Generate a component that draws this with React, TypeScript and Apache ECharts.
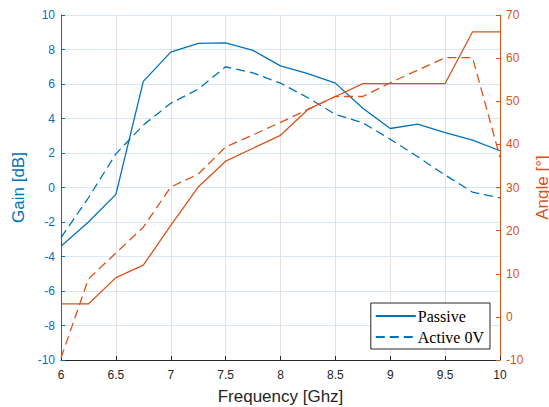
import React, { useEffect, useRef } from "react";
import * as echarts from "echarts";

const freq = [6, 6.25, 6.5, 6.75, 7, 7.25, 7.5, 7.75, 8, 8.25, 8.5, 8.75, 9, 9.25, 9.5, 9.75, 10];
const gainPassive = [-3.4, -2.0, -0.4, 6.15, 7.85, 8.35, 8.38, 7.95, 7.05, 6.6, 6.05, 4.6, 3.42, 3.68, 3.18, 2.75, 2.13];
const gainActive = [-2.9, -0.6, 1.95, 3.62, 4.88, 5.7, 7.0, 6.64, 6.05, 5.2, 4.24, 3.75, 2.8, 1.78, 0.72, -0.27, -0.6];
const anglePassive = [3, 3, 9.1, 12, 21.2, 30.1, 36.1, 39.1, 42.1, 48.1, 51.1, 54.1, 54.1, 54.1, 54.1, 66.1, 66.1];
const angleActive = [-9.5, 8.8, 14.8, 20.8, 30.1, 33.1, 39.4, 42.2, 45.1, 48.1, 51.1, 51.1, 54.3, 57.2, 60.1, 60.1, 37.0];

const BLUE = "#0072BD";
const ORANGE = "#D95319";
const DARK = "#262626";
const SANS = "'Liberation Sans', Arial, Helvetica, sans-serif";

const pairs = (ys: number[]) => freq.map((x, i) => [x, ys[i]]);

export default function App() {
  const ref = useRef<HTMLDivElement>(null);
  useEffect(() => {
    if (!ref.current) return;
    const chart = echarts.init(ref.current, undefined, { renderer: "svg" });
    chart.setOption({
      animation: false,
      backgroundColor: "#fff",
      grid: { left: 61, right: 49, top: 15, bottom: 47, containLabel: false, outerBoundsMode: "none" },
      legend: {
        data: ["Passive", "Active 0V"],
        orient: "vertical",
        right: 59,
        bottom: 58,
        backgroundColor: "#fff",
        borderColor: DARK,
        borderWidth: 1,
        borderRadius: 0,
        padding: [5, 6, 4, 4],
        itemGap: 5,
        itemWidth: 40,
        itemHeight: 12,
        itemStyle: { opacity: 0, borderWidth: 0 },
        textStyle: { fontFamily: "'Liberation Serif', 'DejaVu Serif', serif", fontSize: 16, color: "#000", padding: [0, 0, 0, -3] },
      },
      xAxis: {
        type: "value",
        min: 6,
        max: 10,
        interval: 0.5,
        name: "Frequency [Ghz]",
        nameLocation: "middle",
        nameGap: 28,
        nameTextStyle: { fontFamily: SANS, fontSize: 17, color: DARK },
        axisLine: { show: true, onZero: false, lineStyle: { color: DARK, width: 1 } },
        axisTick: { show: true, inside: true, length: 4, lineStyle: { color: DARK } },
        axisLabel: { fontFamily: SANS, fontSize: 12, color: DARK, margin: 9 },
        splitLine: { show: true, lineStyle: { color: "#e2e2e2", width: 1 } },
      },
      yAxis: [
        {
          type: "value",
          position: "left",
          min: -10,
          max: 10,
          interval: 2,
          name: "Gain [dB]",
          nameLocation: "middle",
          nameRotate: 90,
          nameGap: 32,
          nameTextStyle: { fontFamily: SANS, fontSize: 17, color: BLUE },
          axisLine: { show: true, onZero: false, lineStyle: { color: BLUE, width: 1 } },
          axisTick: { show: true, inside: true, length: 4, lineStyle: { color: BLUE } },
          axisLabel: { fontFamily: SANS, fontSize: 12, color: BLUE, margin: 6 },
          splitLine: { show: true, lineStyle: { color: "#dce8f1", width: 1 } },
        },
        {
          type: "value",
          position: "right",
          min: -10,
          max: 70,
          interval: 10,
          name: "Angle [°]",
          nameLocation: "middle",
          nameRotate: 90,
          nameGap: 34,
          nameTextStyle: { fontFamily: SANS, fontSize: 17, color: ORANGE },
          axisLine: { show: true, onZero: false, lineStyle: { color: ORANGE, width: 1 } },
          axisTick: { show: true, inside: true, length: 4, lineStyle: { color: ORANGE } },
          axisLabel: { fontFamily: SANS, fontSize: 12, color: ORANGE, margin: 6 },
          splitLine: { show: false },
        },
      ],
      series: [
        {
          name: "Passive",
          type: "line",
          yAxisIndex: 0,
          data: pairs(gainPassive),
          symbol: "none",
          color: BLUE,
          lineStyle: { color: BLUE, width: 1.3, type: "solid" },
        },
        {
          name: "Active 0V",
          type: "line",
          yAxisIndex: 0,
          data: pairs(gainActive),
          symbol: "none",
          color: BLUE,
          lineStyle: { color: BLUE, width: 1.3, type: [9, 5] },
        },
        {
          name: "Angle Passive",
          type: "line",
          yAxisIndex: 1,
          data: pairs(anglePassive),
          symbol: "none",
          color: ORANGE,
          lineStyle: { color: ORANGE, width: 1.3, type: "solid" },
        },
        {
          name: "Angle Active 0V",
          type: "line",
          yAxisIndex: 1,
          data: pairs(angleActive),
          symbol: "none",
          color: ORANGE,
          lineStyle: { color: ORANGE, width: 1.3, type: [9, 5] },
        },
      ],
    });
    return () => chart.dispose();
  }, []);
  return <div ref={ref} style={{ width: 549, height: 407, position: "absolute", left: 0, top: 0 }} />;
}
